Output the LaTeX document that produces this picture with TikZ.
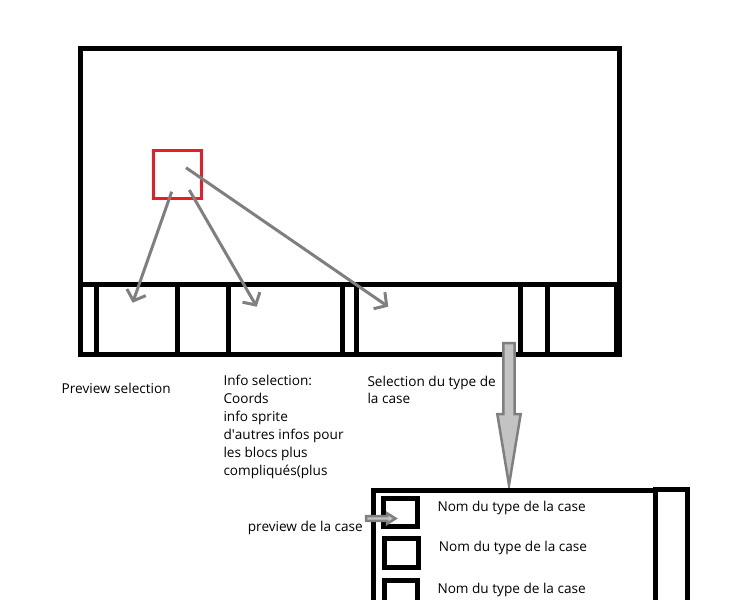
\documentclass[tikz,border=0pt]{standalone}
\usepackage{fontspec}
\setmainfont{Open Sans}
\usetikzlibrary{arrows.meta}
\definecolor{gris}{RGB}{127,127,127}
\definecolor{grisclair}{RGB}{195,195,195}
\definecolor{rouge}{RGB}{237,28,36}
\begin{document}
\begin{tikzpicture}[x=1pt,y=-1pt,
  trait/.style={line width=5pt},
  fleche/.style={draw=gris,line width=3pt,-{Straight Barb[length=9pt,width=20pt]}},
  bloc/.style={draw=gris,line width=2.5pt,fill=grisclair},
  txt/.style={anchor=base west,inner sep=0pt,align=left,font=\fontsize{13.6}{17.9}\selectfont}]
\useasboundingbox (0,0) rectangle (742,600);
% fenetre
\draw[trait] (80.5,48) rectangle (619,354);
\draw[trait] (80.5,284) -- (619,284);
\foreach \x in {96,177,228.5,342,356,520.5,547,616.5}
  \draw[trait] (\x,284) -- (\x,354);
\node[draw=rouge,line width=3pt,inner sep=0pt,minimum size=48.5pt] (sel) at (177.5,174.5) {};
\coordinate (d1) at (171.7,191.7);
\coordinate (d2) at (189.3,190);
\coordinate (d3) at (186,167.7);
\coordinate (apercu) at (132.7,302.7);
\coordinate (info) at (256.7,306.7);
\coordinate (type) at (388.3,306.7);
\draw[fleche] (d1) -- (apercu);
\draw[fleche] (d2) -- (info);
\draw[fleche] (d3) -- (type);
% textes (base = derniere ligne)
\node[txt] (tapercu) at (61.5,393.3) {Preview selection};
\node[txt] (tinfo) at (223.3,475.2) {Info selection:\\Coords\\info sprite\\d\textquotesingle autres infos pour\\les blocs plus\\compliqués(plus};
\node[txt] (ttype) at (367.3,403.9) {Selection du type de\\la case};
\node[txt] (tcase) at (247.7,531) {preview de la case};
% liste des types
\draw[bloc] (503.3,343) -- (514.7,343) -- (514.7,414) -- (520.7,414) -- (509,485)
  -- (497.3,414) -- (503.3,414) -- cycle;
\draw[trait] (373,605) -- (373,490.5) -- (655.5,490.5);
\draw[trait] (655.5,605) -- (655.5,489.5) -- (687,489.5) -- (687,605);
\draw[trait] (383,498.5) rectangle (417.5,526.5);
\draw[trait] (384,538) rectangle (418.5,567.5);
\draw[trait] (384,605) -- (384,580.5) -- (417.5,580.5) -- (417.5,605);
\draw[bloc] (366,516.2) -- (387,516.2) -- (387,513.2) -- (395.5,518.5) -- (387,523.8)
  -- (387,520.8) -- (366,520.8) -- cycle;
\node[txt] (nom1) at (437.3,511) {Nom du type de la case};
\node[txt] (nom2) at (438.7,551) {Nom du type de la case};
\node[txt] (nom3) at (437.3,593.3) {Nom du type de la case};
\end{tikzpicture}
\end{document}
